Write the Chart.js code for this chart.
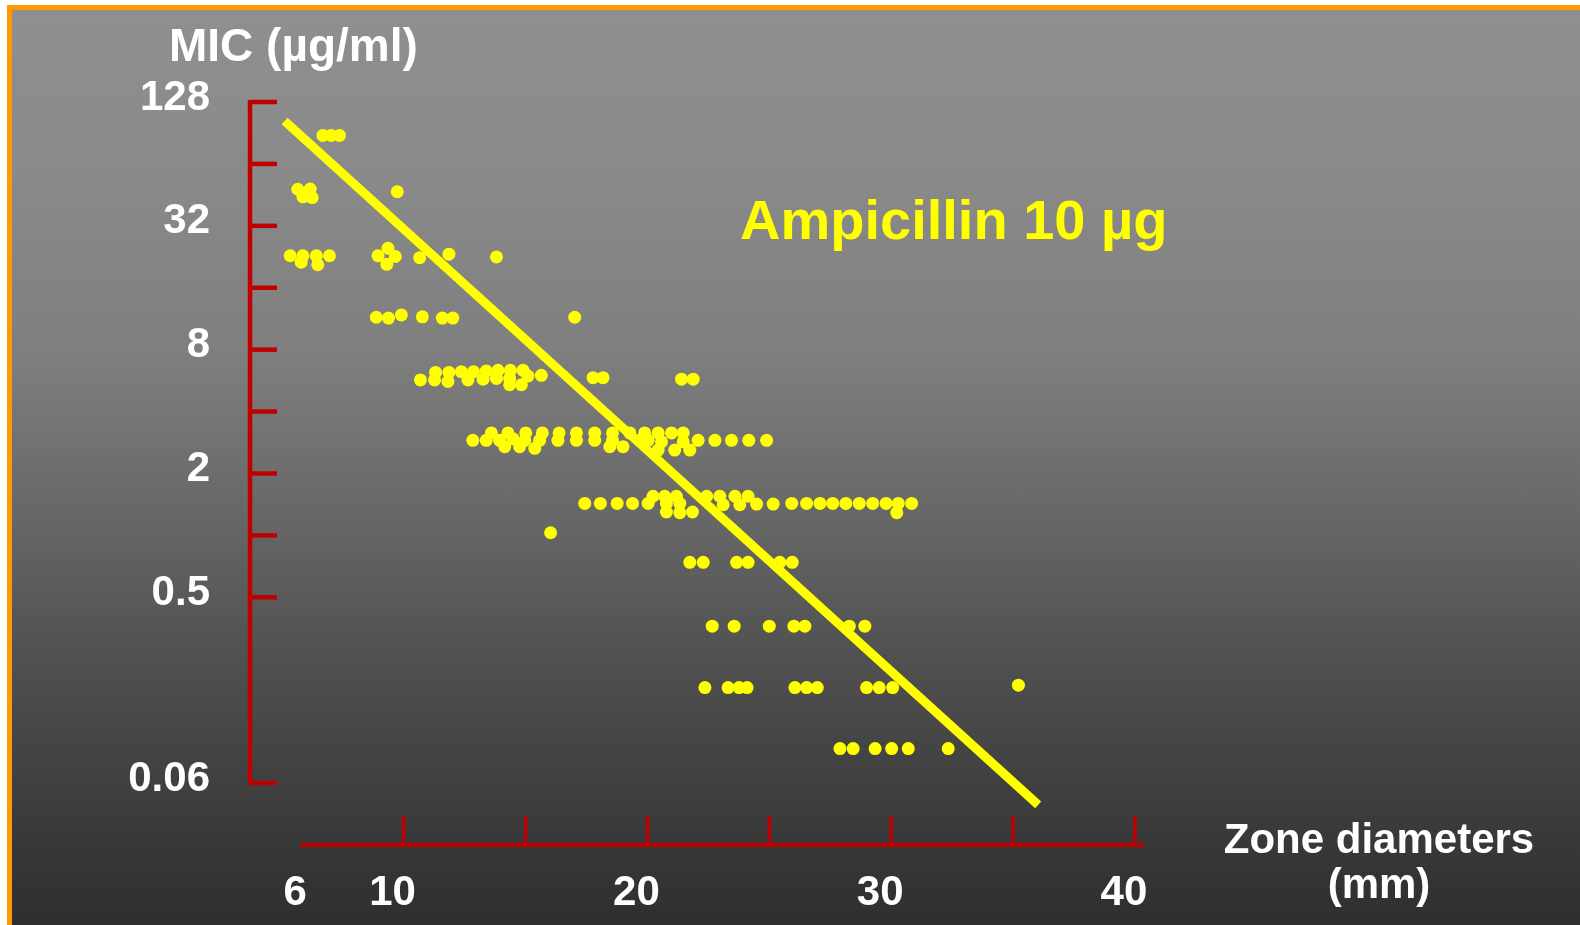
<!DOCTYPE html>
<html lang="en">
<head>
<meta charset="UTF-8">
<title>Ampicillin 10 µg - MIC vs zone diameter</title>
<script src="https://cdn.jsdelivr.net/npm/chart.js"></script>
<style>
  html, body { margin: 0; padding: 0; background: #fff; }
  body {
    width: 1580px; height: 925px; position: relative; overflow: hidden;
    font-family: "Liberation Sans", Arial, Helvetica, sans-serif; font-weight: bold;
  }
  #slide {
    position: absolute; left: 7px; top: 5px; width: 1600px; height: 940px;
    border-top: 5px solid #ff9900; border-left: 5px solid #ff9900;
    background: linear-gradient(to bottom, #8f8f8f 0%, #8a8a8a 17%, #7f7f7f 36%, #676767 54%, #505050 69%, #343434 92%, #2c2c2c 100%);
  }
  #chart { position: absolute; left: 0; top: 0; }
  .txt { position: absolute; white-space: nowrap; line-height: 1; color: #fff; }
  #yTitle { left: 169px; top: 22px; font-size: 46px; }
  #drug { left: 740px; top: 192px; font-size: 56px; color: #ffff00; }
  #xTitle { left: 1379px; top: 816px; font-size: 42px; line-height: 45px; text-align: center; transform: translateX(-50%); }
</style>
</head>
<body>
<div id="slide"></div>
<canvas id="chart" width="1580" height="925"></canvas>
<div class="txt" id="yTitle">MIC (µg/ml)</div>
<div class="txt" id="drug">Ampicillin 10 µg</div>
<div class="txt" id="xTitle">Zone diameters<br>(mm)</div>

<script>
  // isolates: zone diameter (mm) and MIC (µg/ml), read row by row
  const zoneMm = [
    6.69, 7.03, 7.37,
    5.66, 6.17, 5.87, 6.25, 9.74,
    5.35, 5.87, 5.80, 6.42, 6.48, 6.96, 8.95, 9.36, 9.66, 9.31, 10.66, 11.86, 13.81,
    8.88, 9.38, 9.91, 10.77, 11.59, 12.02, 17.02,
    10.69, 11.31, 11.27, 11.86, 11.82, 12.37, 12.64, 12.87, 13.26, 13.39, 13.87, 13.81,
    14.38, 14.35, 14.90, 14.35, 14.83, 15.10, 15.65, 17.77, 18.18, 21.40, 21.88,
    12.84, 13.39, 13.60, 13.94, 14.28, 14.15, 14.49, 14.76, 15.01, 14.97, 15.38, 15.69,
    15.58, 16.38, 16.33, 17.09, 17.09, 17.84, 17.84, 18.57, 18.57, 18.46, 19.00, 19.28,
    19.89, 19.69, 20.03, 20.44, 20.58, 20.99, 20.44, 21.12, 21.47, 21.47, 21.74, 22.08,
    22.77, 23.45, 24.16, 24.89,
    17.43, 18.07, 18.76, 19.39, 20.03, 20.23, 20.71, 20.78, 21.19, 21.33, 20.78, 21.33,
    21.85, 22.43, 22.97, 23.11, 23.59, 23.79, 24.13, 24.48, 25.16, 25.92, 26.53, 27.08,
    27.60, 28.14, 28.69, 29.24, 29.79, 30.29, 30.84, 30.23,
    16.03,
    21.74, 22.29, 23.66, 24.13, 25.43, 25.94,
    22.66, 23.56, 25.00, 26.01, 26.46, 28.28, 28.92,
    22.36, 23.31, 23.76, 24.09, 26.05, 26.53, 26.97, 28.99, 29.51, 30.06, 35.22,
    27.90, 28.44, 29.34, 30.02, 30.70, 32.34
  ];
  const micUgMl = [
    88, 88, 88,
    48.2, 48.3, 44.3, 43.9, 46.9,
    22.9, 22.9, 21.3, 22.9, 20.7, 22.9, 22.9, 24.9, 22.7, 20.8, 22.4, 23.3, 22.6,
    11.5, 11.4, 11.8, 11.55, 11.4, 11.4, 11.5,
    5.7, 6.2, 5.7, 6.2, 5.6, 6.25, 5.7, 6.25, 5.75, 6.3, 6.35, 5.8,
    6.35, 5.8, 6.35, 5.4, 5.4, 5.95, 6.0, 5.85, 5.85, 5.75, 5.75,
    2.9, 2.9, 3.15, 2.9, 3.15, 2.7, 2.95, 2.7, 3.15, 2.9, 2.65, 3.15,
    2.9, 3.15, 2.9, 3.15, 2.9, 3.15, 2.9, 3.15, 2.9, 2.7, 2.7, 3.15,
    3.15, 2.9, 2.9, 3.15, 2.85, 3.15, 2.6, 2.6, 3.15, 2.85, 2.6, 2.9,
    2.9, 2.9, 2.9, 2.9,
    1.43, 1.43, 1.43, 1.43, 1.43, 1.55, 1.55, 1.43, 1.55, 1.43, 1.3, 1.29,
    1.3, 1.55, 1.55, 1.41, 1.55, 1.41, 1.55, 1.42, 1.42, 1.43, 1.43, 1.43,
    1.43, 1.43, 1.43, 1.43, 1.43, 1.43, 1.43, 1.29,
    1.03,
    0.74, 0.74, 0.74, 0.74, 0.74, 0.74,
    0.362, 0.362, 0.362, 0.362, 0.362, 0.362, 0.362,
    0.182, 0.182, 0.182, 0.182, 0.182, 0.182, 0.182, 0.182, 0.182, 0.182, 0.187,
    0.092, 0.092, 0.092, 0.092, 0.092, 0.092
  ];

  // regression line end points
  const fitZone = [5.12, 36.03];
  const fitMic = [103.5, 0.049];

  // axes
  const yLabelValues = [128, 32, 8, 2, 0.5, 0.0625];
  const yLabels = ['128', '32', '8', '2', '0.5', '0.06'];
  const yTickMarks = [128, 64, 32, 16, 8, 4, 2, 1, 0.5, 0.0625];
  const xLabelValues = [6, 10, 20, 30, 40];
  const xTickMarks = [10, 15, 20, 25, 30, 35, 40];
  const xAxisStart = 5.77;

  const red = '#c00000';
  const yellow = '#ffff00';
  const tickFont = { family: '"Liberation Sans", Arial, sans-serif', size: 42, weight: 'bold', lineHeight: 1.2 };

  const points = zoneMm.map((z, i) => ({ x: z, y: micUgMl[i] }));
  const fitLine = fitZone.map((z, i) => ({ x: z, y: fitMic[i] }));

  // red axis lines with inward ticks, like the slide
  const redAxes = {
    id: 'redAxes',
    beforeDatasetsDraw(chart) {
      const { ctx, chartArea, scales: { x, y } } = chart;
      ctx.save();
      ctx.strokeStyle = red;
      ctx.lineWidth = 4.5;
      ctx.beginPath();
      ctx.moveTo(chartArea.left, y.getPixelForValue(128) - 2);
      ctx.lineTo(chartArea.left, y.getPixelForValue(0.0625) + 2);
      ctx.stroke();
      yTickMarks.forEach(v => {
        const py = y.getPixelForValue(v);
        ctx.beginPath();
        ctx.moveTo(chartArea.left, py);
        ctx.lineTo(chartArea.left + 27, py);
        ctx.stroke();
      });
      const xb = chartArea.bottom;
      ctx.lineWidth = 4;
      ctx.beginPath();
      ctx.moveTo(x.getPixelForValue(xAxisStart), xb);
      ctx.lineTo(chartArea.right, xb);
      ctx.stroke();
      ctx.lineWidth = 3.5;
      xTickMarks.forEach(v => {
        const px = x.getPixelForValue(v);
        ctx.beginPath();
        ctx.moveTo(px, xb);
        ctx.lineTo(px, xb - 29);
        ctx.stroke();
      });
      ctx.restore();
    }
  };

  new Chart(document.getElementById('chart'), {
    type: 'scatter',
    data: {
      datasets: [
        {
          label: 'Regression',
          data: fitLine,
          showLine: true,
          borderColor: yellow,
          borderWidth: 9,
          pointRadius: 0,
          order: 0
        },
        {
          label: 'Isolates',
          data: points,
          backgroundColor: yellow,
          borderWidth: 0,
          pointRadius: 6.5,
          pointHoverRadius: 6.5,
          order: 1
        }
      ]
    },
    options: {
      responsive: false,
      animation: false,
      devicePixelRatio: 1,
      layout: { padding: { top: 102, right: 436, left: 0, bottom: 0 } },
      plugins: { legend: { display: false }, tooltip: { enabled: false } },
      scales: {
        x: {
          type: 'linear',
          min: 3.7,
          max: 40.37,
          grid: { display: false },
          border: { display: false },
          afterFit: s => { s.height = 80; },
          afterBuildTicks: s => { s.ticks = xLabelValues.map(v => ({ value: v })); },
          ticks: {
            autoSkip: false, maxRotation: 0, color: '#fff', font: tickFont,
            padding: 15, labelOffset: -11,
            callback: v => String(v)
          }
        },
        y: {
          type: 'logarithmic',
          min: 0.03125,
          max: 128,
          grid: { display: false },
          border: { display: false },
          afterFit: s => { s.width = 250; },
          afterBuildTicks: s => { s.ticks = yLabelValues.map(v => ({ value: v })); },
          ticks: {
            autoSkip: false, color: '#fff', font: tickFont,
            padding: 32, labelOffset: -4,
            callback: v => yLabels[yLabelValues.indexOf(v)]
          }
        }
      }
    },
    plugins: [redAxes]
  });
</script>
</body>
</html>
